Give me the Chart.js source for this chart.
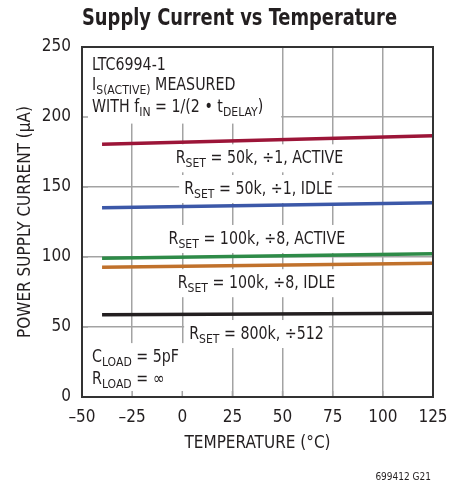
<!DOCTYPE html>
<html><head><meta charset="utf-8">
<script src="https://cdn.jsdelivr.net/npm/chart.js@4"></script>
<style>html,body{margin:0;padding:0;background:#fff;} #wrap{width:461px;height:484px;}</style>
</head><body><div id="wrap"><canvas id="c" width="461" height="484"></canvas></div>
<script>
// ---- data ----
const temperatures = [-40, 125];
const active50k  = [180.5, 186.6];
const idle50k    = [135.2, 138.8];
const active100k = [99.1, 102.4];
const idle100k   = [92.6, 95.5];
const div512     = [58.8, 59.8];
const xTickValues = [-50, -25, 0, 25, 50, 75, 100, 125];
const yTickValues = [0, 50, 100, 150, 200, 250];
const seriesNames = ['RSET = 50k, ÷1, ACTIVE', 'RSET = 50k, ÷1, IDLE', 'RSET = 100k, ÷8, ACTIVE', 'RSET = 100k, ÷8, IDLE', 'RSET = 800k, ÷512'];
const seriesValues = [active50k, idle50k, active100k, idle100k, div512];
const seriesColors = ['#9c1538', '#3c58a8', '#2e8b48', '#c0712c', '#231f20'];

// ---- annotations (text, placed in data units) ----
const labelTexts = [
  'R_{SET} = 50k, ÷1, ACTIVE',
  'R_{SET} = 50k, ÷1, IDLE',
  'R_{SET} = 100k, ÷8, ACTIVE',
  'R_{SET} = 100k, ÷8, IDLE',
  'R_{SET} = 800k, ÷512'
];
const labelAnchors = [[38.5, 171.2], [38.0, 149.3], [37.2, 113.6], [37.0, 82.0], [37.0, 45.7]];
const blockTop = ['LTC6994-1', 'I_{S(ACTIVE)} MEASURED', 'WITH f_{IN} = 1/(2 • t_{DELAY})'];
const blockTopY = [237.9, 223.6, 207.6];
const blockBottom = ['C_{LOAD} = 5pF', 'R_{LOAD} = ∞'];
const blockBottomY = [29.3, 13.6];

const FAM = "'DejaVu Sans Condensed', 'DejaVu Sans', sans-serif";
const TXT = '#231f20';
const GRID = '#a3a3a3';
const MAIN = 17, SUB = 13, SX = 0.93;

function parseRich(s) {
  const out = []; const re = /_\{([^}]*)\}/g; let last = 0, m;
  while ((m = re.exec(s))) {
    if (m.index > last) out.push({t: s.slice(last, m.index), sub: false});
    out.push({t: m[1], sub: true}); last = re.lastIndex;
  }
  if (last < s.length) out.push({t: s.slice(last), sub: false});
  return out;
}
function richWidth(ctx, segs) {
  let w = 0;
  for (const g of segs) { ctx.font = (g.sub ? SUB : MAIN) + 'px ' + FAM; w += ctx.measureText(g.t).width; }
  return w * SX;
}
function drawRich(ctx, segs, x, mid) {
  ctx.save();
  ctx.translate(x, mid);
  ctx.scale(SX, 1);
  ctx.fillStyle = TXT; ctx.textBaseline = 'alphabetic'; ctx.textAlign = 'left';
  let px = 0;
  for (const g of segs) {
    ctx.font = (g.sub ? SUB : MAIN) + 'px ' + FAM;
    ctx.fillText(g.t, px, g.sub ? 10 : 6);
    px += ctx.measureText(g.t).width;
  }
  ctx.restore();
}

const notesPlugin = {
  id: 'notes',
  beforeDatasetsDraw(chart) {
    const {ctx, scales: {x, y}} = chart;
    ctx.save();
    ctx.fillStyle = '#fff';
    ctx.fillRect(x.getPixelForValue(-50) + 1, y.getPixelForValue(250) + 1,
      x.getPixelForValue(49.3) - x.getPixelForValue(-50) - 1, y.getPixelForValue(196) - y.getPixelForValue(250));
    ctx.fillRect(x.getPixelForValue(-50) + 1, y.getPixelForValue(38.5),
      x.getPixelForValue(4) - x.getPixelForValue(-50) - 1, y.getPixelForValue(0) - y.getPixelForValue(38.5) - 1);
    labelTexts.forEach((t, i) => {
      const segs = parseRich(t);
      const w = richWidth(ctx, segs);
      const cx = x.getPixelForValue(labelAnchors[i][0]);
      const my = y.getPixelForValue(labelAnchors[i][1]);
      ctx.fillStyle = '#fff';
      ctx.fillRect(cx - w / 2 - 5, my - 13, w + 10, 28);
      drawRich(ctx, segs, cx - w / 2, my);
    });
    const lx = x.getPixelForValue(-45);
    blockTop.forEach((t, i) => drawRich(ctx, parseRich(t), lx, y.getPixelForValue(blockTopY[i])));
    blockBottom.forEach((t, i) => drawRich(ctx, parseRich(t), lx, y.getPixelForValue(blockBottomY[i])));
    ctx.restore();
  },
  afterDatasetsDraw(chart) {
    const {ctx, chartArea: a, scales: {x, y}} = chart;
    ctx.save();
    ctx.strokeStyle = GRID; ctx.lineWidth = 1.5;
    ctx.beginPath();
    yTickValues.forEach(v => { const py = y.getPixelForValue(v); ctx.moveTo(a.left, py); ctx.lineTo(a.left + 6, py); });
    xTickValues.forEach(v => { const px = x.getPixelForValue(v); ctx.moveTo(px, a.bottom); ctx.lineTo(px, a.bottom - 6); });
    ctx.stroke();
    ctx.strokeStyle = '#333'; ctx.lineWidth = 2;
    ctx.strokeRect(a.left, a.top, a.right - a.left, a.bottom - a.top);
    ctx.restore();
  },
  afterDraw(chart) {
    const {ctx} = chart;
    ctx.save();
    ctx.fillStyle = TXT;
    ctx.font = 'bold 23px ' + FAM;
    ctx.textAlign = 'left'; ctx.textBaseline = 'alphabetic';
    const title = 'Supply Current vs Temperature';
    const tw = ctx.measureText(title).width;
    const k = 315 / tw;
    ctx.translate(82, 25);
    ctx.scale(k, 1);
    ctx.fillText(title, 0, 0);
    ctx.restore();
    ctx.save();
    ctx.fillStyle = TXT;
    ctx.font = '10px ' + FAM;
    ctx.textAlign = 'right'; ctx.textBaseline = 'alphabetic';
    ctx.fillText('699412 G21', 431, 480);
    ctx.restore();
  }
};

new Chart(document.getElementById('c'), {
  type: 'line',
  data: {
    datasets: seriesValues.map((vals, i) => ({
      label: seriesNames[i],
      data: temperatures.map((t, j) => ({x: t, y: vals[j]})),
      borderColor: seriesColors[i],
      borderWidth: 3.5,
      pointRadius: 0,
      fill: false,
      tension: 0
    }))
  },
  options: {
    responsive: false,
    animation: false,
    events: [],
    layout: {padding: {left: 0, right: 28, top: 47, bottom: 27}},
    plugins: {legend: {display: false}, tooltip: {enabled: false}, title: {display: false}},
    scales: {
      x: {
        type: 'linear', min: -50, max: 125,
        afterBuildTicks: s => { s.ticks = xTickValues.map(v => ({value: v})); },
        afterFit: s => { s.height = 60; },
        ticks: {font: {family: FAM, size: MAIN}, color: TXT, padding: 10, maxRotation: 0, autoSkip: false,
          callback: v => String(v).replace('-', '\u2013')},
        grid: {color: GRID, lineWidth: 1.5, drawTicks: false},
        border: {display: false},
        title: {display: true, text: 'TEMPERATURE (°C)', color: TXT, font: {family: FAM, size: MAIN}, padding: {top: 0, bottom: 3}}
      },
      y: {
        type: 'linear', min: 0, max: 250,
        afterBuildTicks: s => { s.ticks = yTickValues.map(v => ({value: v})); },
        afterFit: s => { s.width = 82; },
        ticks: {font: {family: FAM, size: MAIN}, color: TXT, padding: 11},
        grid: {color: GRID, lineWidth: 1.5, drawTicks: false},
        border: {display: false},
        title: {display: true, text: 'POWER SUPPLY CURRENT (μA)', color: TXT, font: {family: FAM, size: MAIN}, padding: {top: 15, bottom: 0}}
      }
    }
  },
  plugins: [notesPlugin]
});
</script>
</body></html>
